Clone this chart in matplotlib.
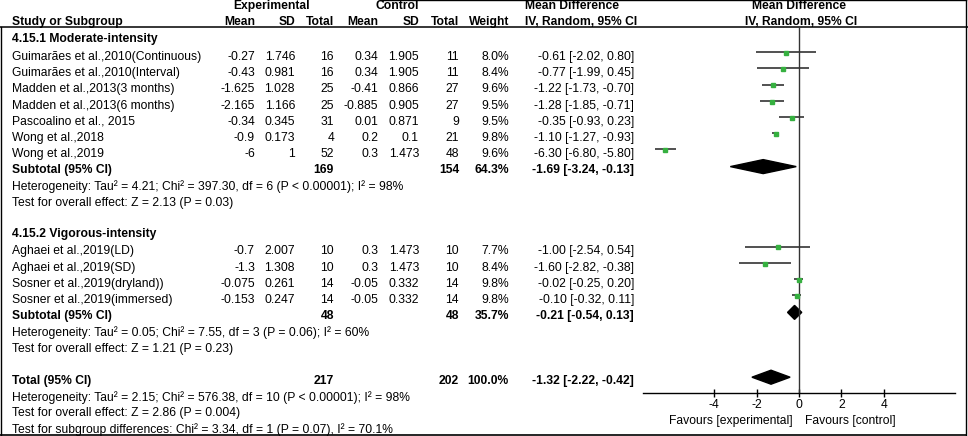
import matplotlib
matplotlib.use("Agg")
import matplotlib.pyplot as plt
from matplotlib.patches import Polygon

plt.rcParams['font.family'] = ['Liberation Sans', 'DejaVu Sans']
FS = 8.75

# ---- data ----
studies1 = ["Guimarães et al.,2010(Continuous)", "Guimarães et al.,2010(Interval)",
            "Madden et al.,2013(3 months)", "Madden et al.,2013(6 months)",
            "Pascoalino et al., 2015", "Wong et al.,2018", "Wong et al.,2019"]
exp_mean1 = [-0.27, -0.43, -1.625, -2.165, -0.34, -0.9, -6]
exp_sd1 = [1.746, 0.981, 1.028, 1.166, 0.345, 0.173, 1]
exp_n1 = [16, 16, 25, 25, 31, 4, 52]
ctl_mean1 = [0.34, 0.34, -0.41, -0.885, 0.01, 0.2, 0.3]
ctl_sd1 = [1.905, 1.905, 0.866, 0.905, 0.871, 0.1, 1.473]
ctl_n1 = [11, 11, 27, 27, 9, 21, 48]
weight1 = [8.0, 8.4, 9.6, 9.5, 9.5, 9.8, 9.6]
md1 = [-0.61, -0.77, -1.22, -1.28, -0.35, -1.10, -6.30]
lo1 = [-2.02, -1.99, -1.73, -1.85, -0.93, -1.27, -6.80]
hi1 = [0.80, 0.45, -0.70, -0.71, 0.23, -0.93, -5.80]

studies2 = ["Aghaei et al.,2019(LD)", "Aghaei et al.,2019(SD)",
            "Sosner et al.,2019(dryland))", "Sosner et al.,2019(immersed)"]
exp_mean2 = [-0.7, -1.3, -0.075, -0.153]
exp_sd2 = [2.007, 1.308, 0.261, 0.247]
exp_n2 = [10, 10, 14, 14]
ctl_mean2 = [0.3, 0.3, -0.05, -0.05]
ctl_sd2 = [1.473, 1.473, 0.332, 0.332]
ctl_n2 = [10, 10, 14, 14]
weight2 = [7.7, 8.4, 9.8, 9.8]
md2 = [-1.00, -1.60, -0.02, -0.10]
lo2 = [-2.54, -2.82, -0.25, -0.32]
hi2 = [0.54, -0.38, 0.20, 0.11]

# subtotal / total: exp_n, ctl_n, weight, md, lo, hi
sub1 = (169, 154, 64.3, -1.69, -3.24, -0.13)
sub2 = (48, 48, 35.7, -0.21, -0.54, 0.13)
total = (217, 202, 100.0, -1.32, -2.22, -0.42)

het1 = "Heterogeneity: Tau² = 4.21; Chi² = 397.30, df = 6 (P < 0.00001); I² = 98%"
eff1 = "Test for overall effect: Z = 2.13 (P = 0.03)"
het2 = "Heterogeneity: Tau² = 0.05; Chi² = 7.55, df = 3 (P = 0.06); I² = 60%"
eff2 = "Test for overall effect: Z = 1.21 (P = 0.23)"
het_t = "Heterogeneity: Tau² = 2.15; Chi² = 576.38, df = 10 (P < 0.00001); I² = 98%"
eff_t = "Test for overall effect: Z = 2.86 (P = 0.004)"
subdiff = "Test for subgroup differences: Chi² = 3.34, df = 1 (P = 0.07), I² = 70.1%"

xticks = [-4, -2, 0, 2, 4]

# ---- layout (pixels) ----
W, H = 968, 436
fig = plt.figure(figsize=(W / 100, H / 100), dpi=100)
tab = fig.add_axes([0, 0, 1, 1])
tab.set_xlim(0, W)
tab.set_ylim(H, 0)
tab.axis('off')

X_STUDY = 12
cols = [255, 295, 334, 378, 419, 459, 509]   # right edges of numeric columns
X_CI = 634
X_MDHEAD = 525
Y0, STEP = 57, 16.2


def row_y(k):
    return Y0 + STEP * k


def txt(x, y, s, ha='left', bold=False):
    tab.text(x, y, s, ha=ha, va='center', fontsize=FS,
             fontweight='bold' if bold else 'normal', color='black')


# header
txt(272, 6, "Experimental", ha='center', bold=True)
txt(397, 6, "Control", ha='center', bold=True)
txt(X_MDHEAD, 6, "Mean Difference", bold=True)
txt(799, 6, "Mean Difference", ha='center', bold=True)
txt(X_STUDY, 22, "Study or Subgroup", bold=True)
for x, s in zip(cols, ["Mean", "SD", "Total", "Mean", "SD", "Total", "Weight"]):
    txt(x, 22, s, ha='right', bold=True)
txt(X_MDHEAD, 22, "IV, Random, 95% CI", bold=True)
txt(801, 22, "IV, Random, 95% CI", ha='center', bold=True)

tab.plot([0, W], [27.5, 27.5], color='black', lw=1.1)
# frame
tab.plot([1, 1], [27.5, 435], color='black', lw=1.0)
tab.plot([0, 966], [435, 435], color='black', lw=1.2)
tab.plot([966, 966], [0.5, 435], color='black', lw=1.0)
tab.plot([380, 966], [0.5, 0.5], color='black', lw=1.0)

# forest axes
FX0, FX1 = 643, 955
FY_TOP, FY_AX = 27.5, 393
fax = fig.add_axes([FX0 / W, (H - FY_AX) / H, (FX1 - FX0) / W, (FY_AX - FY_TOP) / H])
half = (FX1 - 799) / 21.2
fax.set_xlim(-half, half)
fax.set_ylim(FY_AX, FY_TOP)
fax.patch.set_alpha(0)
for sp in ['top', 'left', 'right']:
    fax.spines[sp].set_visible(False)
fax.spines['bottom'].set_linewidth(1.0)
fax.set_yticks([])
fax.set_xticks(xticks)
fax.set_xticklabels([str(t) for t in xticks], fontsize=FS)
fax.tick_params(axis='x', direction='inout', length=6, width=1.0, pad=1.5)
fax.axvline(0, color='#333333', lw=1.0)
fax.text(-0.28, 421, "Favours [experimental]", ha='right', va='center',
         fontsize=FS, clip_on=False)
fax.text(0.28, 421, "Favours [control]", ha='left', va='center',
         fontsize=FS, clip_on=False)


def study_rows(k0, names, em, es, en, cm, cs, cn, w, md, lo, hi):
    for i in range(len(names)):
        y = row_y(k0 + i)
        txt(X_STUDY, y, names[i])
        vals = [f"{em[i]:g}", f"{es[i]:g}", f"{en[i]}", f"{cm[i]:g}",
                f"{cs[i]:g}", f"{cn[i]}", f"{w[i]:.1f}%"]
        for x, s in zip(cols, vals):
            txt(x, y, s, ha='right')
        txt(X_CI, y, f"{md[i]:.2f} [{lo[i]:.2f}, {hi[i]:.2f}]", ha='right')
        fy = y - 4.8
        fax.plot([lo[i], hi[i]], [fy, fy], color='#333333', lw=1.2,
                 solid_capstyle='butt', clip_on=False)
        fax.plot(md[i], fy + 0.8, marker='s', ms=3.0, color='#36b040',
                 mec='#36b040', clip_on=False)


def summary_row(k, label, vals):
    n_e, n_c, w, md, lo, hi = vals
    y = row_y(k)
    txt(X_STUDY, y, label, bold=True)
    txt(cols[2], y, f"{n_e}", ha='right', bold=True)
    txt(cols[5], y, f"{n_c}", ha='right', bold=True)
    txt(cols[6], y, f"{w:.1f}%", ha='right', bold=True)
    txt(X_CI, y, f"{md:.2f} [{lo:.2f}, {hi:.2f}]", ha='right', bold=True)
    fy = y - 3.8
    dh = 7.0
    fax.add_patch(Polygon([(lo, fy), (md, fy - dh), (hi, fy), (md, fy + dh)],
                          closed=True, color='black', clip_on=False))


txt(X_STUDY, row_y(-1) - 1.5, "4.15.1 Moderate-intensity", bold=True)
study_rows(0, studies1, exp_mean1, exp_sd1, exp_n1, ctl_mean1, ctl_sd1, ctl_n1,
           weight1, md1, lo1, hi1)
summary_row(7, "Subtotal (95% CI)", sub1)
txt(X_STUDY, row_y(8), het1)
txt(X_STUDY, row_y(9), eff1)

txt(X_STUDY, row_y(11) - 1.5, "4.15.2 Vigorous-intensity", bold=True)
study_rows(12, studies2, exp_mean2, exp_sd2, exp_n2, ctl_mean2, ctl_sd2, ctl_n2,
           weight2, md2, lo2, hi2)
summary_row(16, "Subtotal (95% CI)", sub2)
txt(X_STUDY, row_y(17), het2)
txt(X_STUDY, row_y(18), eff2)

summary_row(20, "Total (95% CI)", total)
txt(X_STUDY, row_y(21), het_t)
txt(X_STUDY, row_y(22), eff_t)
txt(X_STUDY, row_y(23), subdiff)

fig.savefig("out.png", dpi=100)
